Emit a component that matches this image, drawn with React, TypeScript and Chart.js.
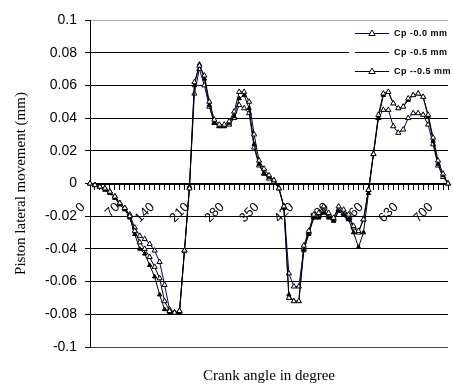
import React, { useEffect, useRef } from 'react';
import { Chart, registerables } from 'chart.js';

Chart.register(...registerables);

// Crank angle categories, every 10 degrees over the full 720-degree cycle
const crankAngles = [
  '0', '10', '20', '30', '40', '50', '60', '70', '80', '90',
  '100', '110', '120', '130', '140', '150', '160', '170', '180', '190',
  '200', '210', '220', '230', '240', '250', '260', '270', '280', '290',
  '300', '310', '320', '330', '340', '350', '360', '370', '380', '390',
  '400', '410', '420', '430', '440', '450', '460', '470', '480', '490',
  '500', '510', '520', '530', '540', '550', '560', '570', '580', '590',
  '600', '610', '620', '630', '640', '650', '660', '670', '680', '690',
  '700', '710', '720',
];

// Piston lateral movement (mm) for each crank pin offset
const cp00 = [
  0, -0.001, -0.002, -0.003, -0.005, -0.008, -0.012, -0.015, -0.019, -0.027,
  -0.032, -0.034, -0.037, -0.041, -0.048, -0.062, -0.077, -0.079, -0.078, -0.041,
  -0.002, 0.055, 0.070, 0.060, 0.047, 0.037, 0.035, 0.035, 0.036, 0.040,
  0.048, 0.046, 0.043, 0.022, 0.011, 0.006, 0.003, 0.001, -0.003, -0.014,
  -0.055, -0.063, -0.063, -0.040, -0.030, -0.020, -0.020, -0.017, -0.020, -0.022,
  -0.016, -0.018, -0.021, -0.027, -0.030, -0.022, -0.004, 0.018, 0.040, 0.045,
  0.045, 0.035, 0.031, 0.033, 0.040, 0.043, 0.043, 0.042, 0.036, 0.024,
  0.011, 0.004, 0,
];

const cp05 = [
  0, -0.001, -0.002, -0.004, -0.006, -0.009, -0.013, -0.016, -0.021, -0.031,
  -0.040, -0.043, -0.050, -0.057, -0.068, -0.077, -0.079, -0.079, -0.079, -0.041,
  -0.002, 0.060, 0.073, 0.064, 0.048, 0.037, 0.035, 0.035, 0.037, 0.041,
  0.052, 0.054, 0.046, 0.024, 0.012, 0.006, 0.004, 0.002, -0.003, -0.015,
  -0.068, -0.072, -0.072, -0.041, -0.031, -0.021, -0.021, -0.018, -0.021, -0.023,
  -0.017, -0.019, -0.022, -0.030, -0.039, -0.030, -0.006, 0.018, 0.040, 0.054,
  0.056, 0.049, 0.046, 0.047, 0.051, 0.054, 0.055, 0.053, 0.041, 0.026,
  0.012, 0.005, 0,
];

const cpNeg05 = [
  0, -0.001, -0.002, -0.003, -0.005, -0.008, -0.012, -0.015, -0.020, -0.029,
  -0.036, -0.040, -0.045, -0.051, -0.058, -0.072, -0.078, -0.079, -0.078, -0.041,
  -0.003, 0.062, 0.072, 0.066, 0.050, 0.039, 0.036, 0.036, 0.038, 0.044,
  0.056, 0.056, 0.050, 0.030, 0.014, 0.009, 0.005, 0.002, -0.003, -0.014,
  -0.070, -0.072, -0.072, -0.038, -0.029, -0.019, -0.018, -0.014, -0.018, -0.021,
  -0.014, -0.016, -0.019, -0.026, -0.029, -0.022, -0.004, 0.018, 0.042, 0.055,
  0.056, 0.049, 0.046, 0.047, 0.052, 0.054, 0.055, 0.053, 0.042, 0.028,
  0.014, 0.006, 0,
];

const seriesNames = ['Cp -0.0 mm', 'Cp -0.5 mm', 'Cp --0.5 mm'];
const legendMarkers = [true, false, true];

const yMin = -0.1;
const yMax = 0.1;
const yStep = 0.02;
const labelEvery = 7;

// Small boxed legend in the upper-right corner of the plot
const cornerLegend = {
  id: 'cornerLegend',
  afterDraw(chart: any) {
    const { ctx, chartArea } = chart;
    const x0 = chartArea.right - 99;
    const y0 = chartArea.top + 4;
    ctx.save();
    ctx.fillStyle = '#ffffff';
    ctx.fillRect(x0, y0, chart.width - x0, 56);
    chart.data.datasets.forEach((ds: any, i: number) => {
      const y = y0 + 9 + i * 19;
      ctx.strokeStyle = ds.borderColor;
      ctx.lineWidth = 1;
      ctx.beginPath();
      ctx.moveTo(x0 + 6, y + 0.5);
      ctx.lineTo(x0 + 40, y + 0.5);
      ctx.stroke();
      if (legendMarkers[i]) {
        const cx = x0 + 23;
        ctx.beginPath();
        ctx.moveTo(cx, y - 3);
        ctx.lineTo(cx + 3.2, y + 2.5);
        ctx.lineTo(cx - 3.2, y + 2.5);
        ctx.closePath();
        ctx.fillStyle = '#ffffff';
        ctx.fill();
        ctx.strokeStyle = '#000000';
        ctx.stroke();
      }
      ctx.fillStyle = '#000000';
      ctx.font = 'bold 9px "Liberation Sans", Arial, sans-serif';
      (ctx as any).letterSpacing = '0.5px';
      ctx.textAlign = 'left';
      ctx.textBaseline = 'middle';
      ctx.fillText(ds.label, x0 + 45, y + 1);
    });
    ctx.restore();
  },
};

export default function App() {
  const canvasRef = useRef<HTMLCanvasElement | null>(null);

  useEffect(() => {
    const canvas = canvasRef.current;
    if (!canvas) return;
    const chart = new Chart(canvas, {
      type: 'line',
      data: {
        labels: crankAngles,
        datasets: [
          {
            label: seriesNames[0],
            data: cp00,
            borderColor: '#000080',
            borderWidth: 1,
            pointStyle: 'triangle',
            pointRadius: 3,
            pointBorderWidth: 1,
            pointBorderColor: '#000000',
            pointBackgroundColor: '#ffffff',
            tension: 0,
            order: 3,
            clip: false,
          },
          {
            label: seriesNames[1],
            data: cp05,
            borderColor: '#000000',
            borderWidth: 1,
            pointStyle: 'triangle',
            pointRadius: 2.5,
            pointBorderWidth: 1,
            pointBorderColor: '#000000',
            pointBackgroundColor: '#000000',
            tension: 0,
            order: 2,
            clip: false,
          },
          {
            label: seriesNames[2],
            data: cpNeg05,
            borderColor: '#000000',
            borderWidth: 1,
            pointStyle: 'triangle',
            pointRadius: 3,
            pointBorderWidth: 1,
            pointBorderColor: '#000000',
            pointBackgroundColor: '#ffffff',
            tension: 0,
            order: 1,
            clip: false,
          },
        ],
      },
      options: {
        animation: false,
        responsive: true,
        maintainAspectRatio: false,
        layout: { padding: { top: 20, right: 1, left: 0, bottom: 0 } },
        plugins: {
          legend: { display: false },
          tooltip: { enabled: false },
          title: {
            display: true,
            text: 'Crank angle in degree',
            position: 'bottom',
            fullSize: false,
            color: '#000000',
            font: { family: '"Liberation Serif", "Times New Roman", serif', size: 15, weight: 'normal' },
            padding: { top: 20, bottom: 2 },
          },
        },
        scales: {
          x: {
            type: 'category',
            position: { y: 0 } as any,
            offset: false,
            afterFit: (scale: any) => {
              scale.paddingLeft = 0;
              scale.paddingRight = 0;
            },
            grid: {
              drawOnChartArea: false,
              drawTicks: true,
              tickLength: 5,
              tickColor: '#000000',
              offset: false,
            },
            border: { display: true, color: '#000000', width: 2 },
            ticks: {
              autoSkip: false,
              maxRotation: 45,
              minRotation: 45,
              padding: 11,
              labelOffset: -7,
              color: '#000000',
              font: { family: '"Liberation Sans", Arial, sans-serif', size: 13 },
              callback: (_v: any, i: number) => (i % labelEvery === 0 ? crankAngles[i] : ''),
            },
          },
          y: {
            min: yMin,
            max: yMax,
            afterFit: (scale: any) => {
              scale.width = 90;
            },
            grid: {
              color: (c: any) => {
                const v = c.tick ? c.tick.value : 0;
                if (Math.abs(v - yMax) < 1e-9) return '#b0b0b0';
                if (Math.abs(v - yMin) < 1e-9) return '#444444';
                return '#000000';
              },
              lineWidth: 1,
              drawTicks: true,
              tickLength: 5,
              tickColor: '#000000',
            },
            border: { display: true, color: '#000000', width: 1 },
            ticks: {
              stepSize: yStep,
              padding: 8,
              color: '#000000',
              font: { family: '"Liberation Sans", Arial, sans-serif', size: 14 },
              callback: (v: any) => String(Number(Number(v).toFixed(2))),
            },
            title: {
              display: true,
              text: 'Piston lateral movement (mm)',
              color: '#000000',
              font: { family: '"Liberation Serif", "Times New Roman", serif', size: 15, weight: 'normal' },
              padding: { top: 12, bottom: 0 },
            },
          },
        },
      },
      plugins: [cornerLegend],
    });
    return () => chart.destroy();
  }, []);

  return (
    <div style={{ position: 'fixed', left: 0, top: 0, width: 453, height: 387, background: '#ffffff' }}>
      <canvas ref={canvasRef} />
    </div>
  );
}
